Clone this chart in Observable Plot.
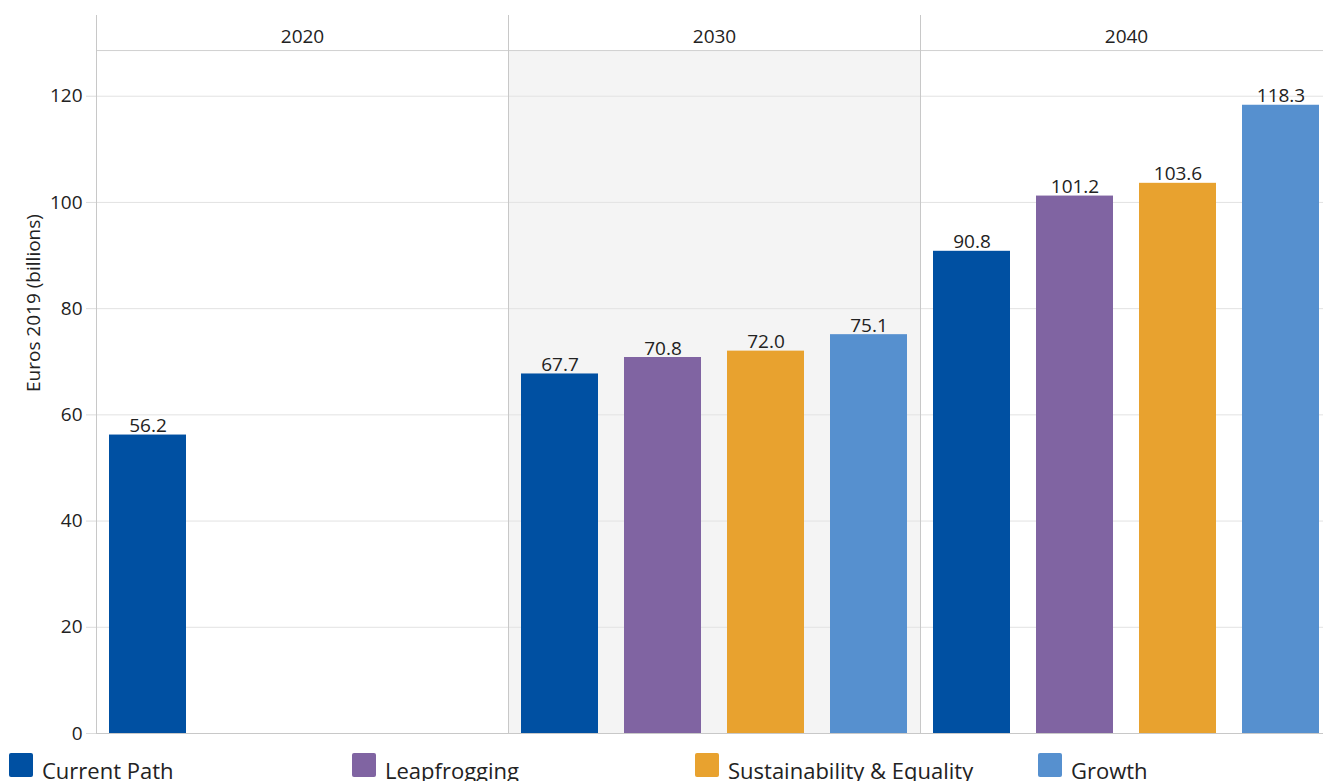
<!DOCTYPE html>
<html>
<head>
<meta charset="utf-8">
<script src="https://cdn.jsdelivr.net/npm/d3@7"></script>
<script src="https://cdn.jsdelivr.net/npm/@observablehq/plot@0.6"></script>
<style>
  html, body { margin: 0; padding: 0; background: #fff; overflow: hidden; }
  body { font-family: "Open Sans", sans-serif; }
  #chart svg { max-width: none !important; display: block; }
  #legend { position: relative; height: 33px; width: 1323px; }
  .item { position: absolute; top: 5px; display: flex; align-items: flex-start; }
  .sw { width: 24px; height: 24px; border-radius: 2px; }
  .lab { font-size: 22px; color: #222; margin-left: 9px; line-height: 24px; margin-top: 5px; white-space: nowrap; }
</style>
</head>
<body>
<div id="chart"></div>
<div id="legend"></div>
<script>
const years = ["2020", "2030", "2040"];
const scenarios = ["Current Path", "Leapfrogging", "Sustainability & Equality", "Growth"];
const colors = ["#0050a2", "#8064a2", "#e8a22f", "#5690cf"];
const values2020 = [56.2];
const values2030 = [67.7, 70.8, 72.0, 75.1];
const values2040 = [90.8, 101.2, 103.6, 118.3];
const yTicks = [0, 20, 40, 60, 80, 100, 120];
const yLabel = "Euros 2019 (billions)";
const shadedYear = "2030";

const rows = [];
[values2020, values2030, values2040].forEach((vals, i) => {
  vals.forEach((v, j) => rows.push({year: years[i], scenario: scenarios[j], value: v}));
});

const plotTop = 128.6;   // top of the plotting area (below header)
const headerTop = 135.2; // top of header band

const chart = Plot.plot({
  width: 1332,
  height: 748,
  marginLeft: 96,
  marginRight: 0,
  marginTop: 15,
  marginBottom: 15,
  style: {fontFamily: "Open Sans, sans-serif", fontSize: "19px", color: "#222", background: "#fff", maxWidth: "none"},
  fx: {domain: years, padding: 0, axis: null},
  x: {domain: scenarios, paddingInner: 0.25, paddingOuter: 0.125, axis: null},
  y: {domain: [0, headerTop], axis: null},
  color: {domain: scenarios, range: colors},
  marks: [
    Plot.rect([shadedYear], {fx: d => d, y1: 0, y2: plotTop, fill: "#f4f4f4"}),
    Plot.gridY(yTicks.filter(d => d > 0), {stroke: "#e2e2e2", strokeOpacity: 1}),
    Plot.axisY({ticks: yTicks, tickSize: 10, tickPadding: 4, stroke: "#dcdcdc", strokeOpacity: 1, fill: "#222", fontSize: 19, label: null, tickFormat: d => d}),
    Plot.barY(rows, {fx: "year", x: "scenario", y: "value", fill: "scenario"}),
    Plot.text(rows, {fx: "year", x: "scenario", y: "value", text: d => d.value.toFixed(1), lineAnchor: "bottom", dy: -3, fill: "#222", fontSize: 19}),
    Plot.ruleY([0], {stroke: "#c8c8c8"}),
    Plot.ruleY([plotTop], {stroke: "#d0d0d0"}),
    Plot.frame({anchor: "left", stroke: "#c8c8c8"}),
    Plot.text(years, {fx: d => d, y: [131.1, 131.1, 131.1], text: d => d, fill: "#222", fontSize: 19}),
    Plot.text([yLabel], {fx: [years[0]], y: [plotTop / 2], text: d => d, frameAnchor: "left", dx: -63, rotate: -90, fill: "#222", fontSize: 19})
  ]
});
document.getElementById("chart").appendChild(chart);

const legend = document.getElementById("legend");
scenarios.forEach((s, i) => {
  const item = document.createElement("div");
  item.className = "item";
  item.style.left = (9 + i * 343) + "px";
  const sw = document.createElement("div");
  sw.className = "sw";
  sw.style.background = colors[i];
  const lab = document.createElement("div");
  lab.className = "lab";
  lab.textContent = s;
  item.appendChild(sw);
  item.appendChild(lab);
  legend.appendChild(item);
});
</script>
</body>
</html>
